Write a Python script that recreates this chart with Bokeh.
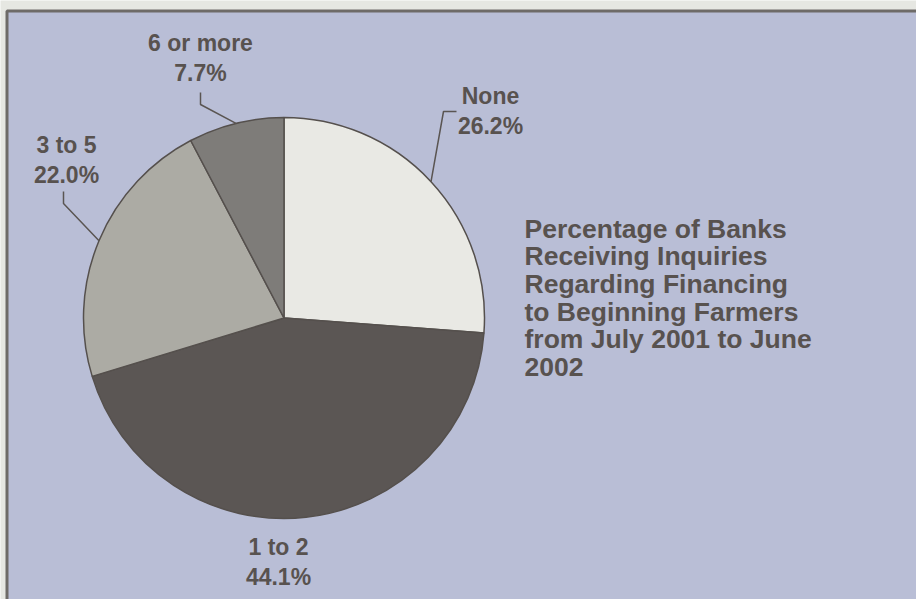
import numpy as np
from bokeh.plotting import figure
from bokeh.models import ColumnDataSource, Range1d, BoxAnnotation
from bokeh.core.properties import value
from bokeh.embed import file_html
from bokeh.resources import INLINE

# ---- data ----
categories = ["None", "1 to 2", "3 to 5", "6 or more"]
percents = [26.2, 44.1, 22.0, 7.7]
title_lines = [
    "Percentage of Banks",
    "Receiving Inquiries",
    "Regarding Financing",
    "to Beginning Farmers",
    "from July 2001 to June",
    "2002",
]

# ---- layout / style ----
W, H = 916, 599
CX, CY_PX, R = 283.5, 317.5, 200.5
slice_colors = ["#e9e9e4", "#5b5654", "#acaba4", "#7e7c79"]
text_color = "#58524f"
panel_color = "#b9bed6"
page_color = "#e6e7e2"
label_name_px = [(490, 95), (278, 546), (66, 144), (200, 42)]
label_gap = 30.5
leader_elbows_px = {
    0: [(456, 111), (443, 111)],
    2: [(63, 191), (63, 203)],
    3: [(200, 92), (200, 104)],
}
title_x, title_y0, title_dy = 524, 228, 27.7


def fy(py):
    return H - py


p = figure(width=W, height=H, output_backend="svg", toolbar_location=None,
           x_range=Range1d(0, W), y_range=Range1d(0, H), min_border=0)
p.axis.visible = False
p.grid.visible = False
p.outline_line_color = None
p.background_fill_color = page_color
p.border_fill_color = page_color

# panel
p.add_layout(BoxAnnotation(left=6.5, right=W + 20, top=fy(10.5), bottom=-20,
                           fill_color=panel_color, fill_alpha=1,
                           line_color="#6e6b68", line_alpha=1, line_width=3,
                           level="underlay"))

# pie
frac = np.array(percents) / 100.0
cum = np.concatenate([[0], np.cumsum(frac)])
start = np.pi / 2 - 2 * np.pi * cum[:-1]
end = np.pi / 2 - 2 * np.pi * cum[1:]
mid = (start + end) / 2
src = ColumnDataSource(dict(start=start, end=end, color=slice_colors, cat=categories))
p.wedge(x=CX, y=fy(CY_PX), radius=R, start_angle="start", end_angle="end",
        direction="clock", fill_color="color", line_color="#55504d", line_width=1.5,
        source=src)

# leader lines
xs, ys = [], []
for i, pts in leader_elbows_px.items():
    ex = CX + R * np.cos(mid[i])
    ey = fy(CY_PX) + R * np.sin(mid[i])
    xs.append([pt[0] for pt in pts] + [ex])
    ys.append([fy(pt[1]) for pt in pts] + [ey])
p.multi_line(xs=xs, ys=ys, line_color="#5a5552", line_width=1.5)

# labels
lx = [pt[0] for pt in label_name_px]
ly = [fy(pt[1]) for pt in label_name_px]
pct_text = [f"{v:.1f}%" for v in percents]
p.text(x=lx, y=ly, text=categories, text_align="center", text_baseline="middle",
       text_font=value("Liberation Sans"), text_font_style="bold",
       text_font_size="23px", text_color=text_color)
p.text(x=lx, y=[y - label_gap for y in ly], text=pct_text, text_align="center",
       text_baseline="middle", text_font=value("Liberation Sans"),
       text_font_style="bold", text_font_size="23px", text_color=text_color)

# title block
p.text(x=[title_x] * len(title_lines),
       y=[fy(title_y0 + i * title_dy) for i in range(len(title_lines))],
       text=title_lines, text_align="left", text_baseline="middle",
       text_font=value("Liberation Sans"), text_font_style="bold",
       text_font_size="26.5px", text_color=text_color)

open("out.html", "w").write(file_html(p, INLINE))
